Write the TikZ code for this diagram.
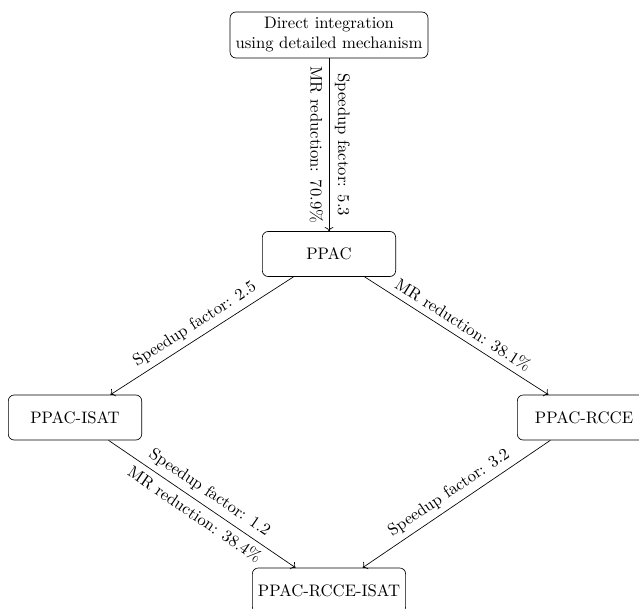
\documentclass[tikz,border=0pt]{standalone}
\usetikzlibrary{arrows.meta}
\begin{document}
\begin{tikzpicture}[x=0.6pt,y=-0.6pt,
  stage/.style={draw, rounded corners=3.5pt, minimum width=80pt, minimum height=27pt, inner sep=3.33pt, align=center},
  flow/.style={->},
  lab/.style={midway, sloped}]
\clip (0,0) rectangle (639,608);

% methods
\node[stage] (direct) at (329,35) {Direct integration\\using detailed mechanism};
\node[stage] (ppac)   at (329,254) {PPAC};
\node[stage] (isat)   at (75,417.5) {PPAC-ISAT};
\node[stage] (rcce)   at (584,417.5) {PPAC-RCCE};
\node[stage] (both)   at (329,590.5) {PPAC-RCCE-ISAT};

% improvements between methods
\draw[flow] (direct) -- (ppac)
  node[lab, above] {Speedup factor: 5.3}
  node[lab, below] {MR reduction: 70.9\%};
\draw[flow] (ppac) -- (isat)
  node[lab, above] {Speedup factor: 2.5};
\draw[flow] (ppac) -- (rcce)
  node[lab, above] {MR reduction: 38.1\%};
\draw[flow] (isat) -- (both)
  node[lab, above] {Speedup factor: 1.2}
  node[lab, below] {MR reduction: 38.4\%};
\draw[flow] (rcce) -- (both)
  node[lab, above] {Speedup factor: 3.2};
\end{tikzpicture}
\end{document}
